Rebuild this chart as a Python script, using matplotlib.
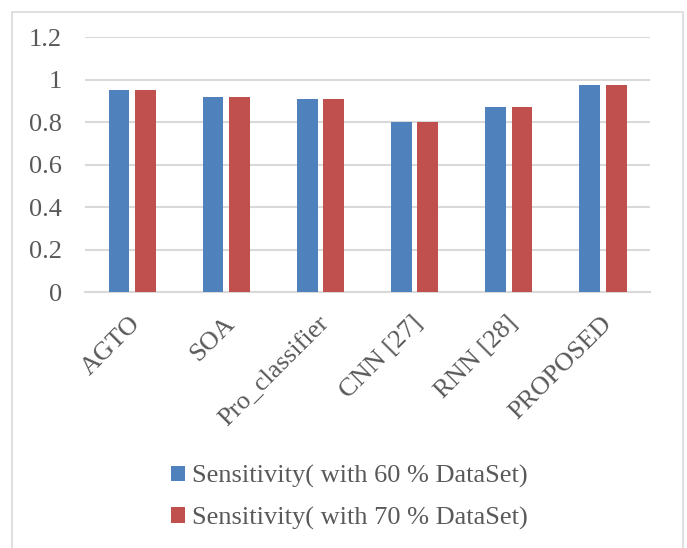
import numpy as np
import matplotlib.pyplot as plt
from matplotlib.patches import Rectangle
from matplotlib.transforms import ScaledTranslation

categories = ['AGTO', 'SOA', 'Pro_classifier', 'CNN [27]', 'RNN [28]', 'PROPOSED']
sens_60 = [0.952, 0.918, 0.909, 0.802, 0.874, 0.975]
sens_70 = [0.952, 0.918, 0.909, 0.802, 0.874, 0.975]
labels = ['Sensitivity( with 60 % DataSet)', 'Sensitivity( with 70 % DataSet)']

plt.rcParams['font.family'] = ['Liberation Serif', 'DejaVu Serif']
txt = '#595959'

fig = plt.figure(figsize=(6.87, 5.48), dpi=100)
ax = fig.add_axes([0.1237, 0.4666, 0.8226, 0.4653])

x = np.arange(len(categories))
w = 0.22
ax.bar(x - 0.14, sens_60, w, color='#4F81BD', label=labels[0], zorder=3)
ax.bar(x + 0.14, sens_70, w, color='#C0504D', label=labels[1], zorder=3)

ax.set_xlim(-0.5, len(categories) - 0.5)
ax.set_ylim(0, 1.2)
ax.set_yticks([0, 0.2, 0.4, 0.6, 0.8, 1.0, 1.2])
ax.set_yticklabels(['0', '0.2', '0.4', '0.6', '0.8', '1', '1.2'])
ax.yaxis.grid(True, color='#D9D9D9', linewidth=1.5, zorder=0)
for s in ['top', 'right', 'left']:
    ax.spines[s].set_visible(False)
ax.spines['bottom'].set_color('#D9D9D9')
ax.spines['bottom'].set_linewidth(1.5)
ax.tick_params(axis='both', length=0, labelsize=19, colors=txt)
ax.tick_params(axis='y', pad=16.5)
ax.set_xticks(x)
ax.set_xticklabels(categories, rotation=45, ha='right', va='center',
                   rotation_mode='anchor')
ax.tick_params(axis='x', pad=20)
for lab in ax.get_xticklabels():
    lab.set_transform(lab.get_transform() + ScaledTranslation(5 / 100, 0, fig.dpi_scale_trans))

leg = fig.legend(loc='center', bbox_to_anchor=(0.509, 0.092), ncol=1,
                 frameon=False, fontsize=19, handlelength=0.53, handleheight=0.53,
                 handletextpad=0.27, labelspacing=0.7)
for t in leg.get_texts():
    t.set_color(txt)

fig.patches.append(Rectangle((12 / 687, -0.05), 671 / 687, 1.05 - 12 / 548,
                             transform=fig.transFigure, fill=False,
                             edgecolor='#D9D9D9', linewidth=1.2))

fig.savefig('out.png', dpi=100)
